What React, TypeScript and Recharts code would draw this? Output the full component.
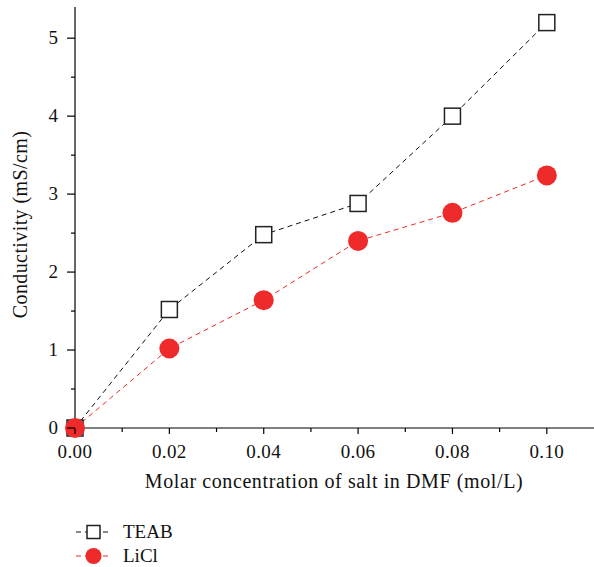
import { LineChart, Line, XAxis, YAxis } from "recharts";

const concentrations = [0, 0.02, 0.04, 0.06, 0.08, 0.1];
const teab = [0, 1.52, 2.48, 2.88, 4.0, 5.2];
const licl = [0, 1.02, 1.64, 2.4, 2.76, 3.24];

const xTicks = [0, 0.01, 0.02, 0.03, 0.04, 0.05, 0.06, 0.07, 0.08, 0.09, 0.1];
const yTicks = [0, 0.5, 1, 1.5, 2, 2.5, 3, 3.5, 4, 4.5, 5];

const data = concentrations.map((c, i) => ({ c, teab: teab[i], licl: licl[i] }));

const RED = "#ee2a2a";
const FONT = "'Liberation Serif', 'DejaVu Serif', serif";

const XTick = (props: any) => {
  const { x, y, payload } = props;
  const v = payload.value as number;
  const major = Math.round(v * 100) % 2 === 0;
  return (
    <g>
      <line x1={x} x2={x} y1={y} y2={y + (major ? 6 : 4)} stroke="#000" strokeWidth={1.2} />
      {major && (
        <text x={x} y={y + 30} textAnchor="middle" fontSize={19} fontFamily={FONT} fill="#111" letterSpacing={0.4}>
          {v.toFixed(2)}
        </text>
      )}
    </g>
  );
};

const YTick = (props: any) => {
  const { x, y, payload } = props;
  const v = payload.value as number;
  const major = Number.isInteger(v);
  return (
    <g>
      <line x1={x} x2={x - (major ? 8 : 4)} y1={y} y2={y} stroke="#000" strokeWidth={1.2} />
      {major && (
        <text x={x - 17} y={y + 6} textAnchor="end" fontSize={19} fontFamily={FONT} fill="#111">
          {v}
        </text>
      )}
    </g>
  );
};

const Square = (props: any) => {
  const { cx, cy } = props;
  return <rect x={cx - 8} y={cy - 8} width={16} height={16} fill="#fff" stroke="#222" strokeWidth={1.5} />;
};

const Circle = (props: any) => {
  const { cx, cy } = props;
  return <circle cx={cx} cy={cy} r={10} fill={RED} />;
};

const XLabel = (props: any) => {
  const vb = props.viewBox;
  return (
    <text x={334} y={vb.y + 60} textAnchor="middle" fontSize={20} fontFamily={FONT} fill="#111" letterSpacing={0.6}>
      Molar concentration of salt in DMF (mol/L)
    </text>
  );
};

const YLabel = (props: any) => {
  const vb = props.viewBox;
  const cy = vb.y + vb.height / 2 + 7;
  return (
    <text
      x={27}
      y={cy}
      transform={`rotate(-90 27 ${cy})`}
      textAnchor="middle"
      fontSize={20}
      fontFamily={FONT}
      fill="#111"
      letterSpacing={0.4}
    >
      Conductivity (mS/cm)
    </text>
  );
};

export default function App() {
  return (
    <div style={{ position: "absolute", left: 0, top: 0, width: 594, height: 567, background: "#fff" }}>
      <LineChart width={594} height={567} data={data} margin={{ top: 7, right: 0, left: 15, bottom: 79 }}>
        <XAxis
          dataKey="c"
          type="number"
          domain={[0, 0.11]}
          ticks={xTicks}
          interval={0}
          tick={<XTick />}
          tickLine={false}
          tickSize={0}
          tickMargin={0}
          axisLine={{ stroke: "#000", strokeWidth: 1.2 }}
          height={60}
          label={<XLabel />}
        />
        <YAxis
          type="number"
          domain={[0, 5.4]}
          ticks={yTicks}
          interval={0}
          tick={<YTick />}
          tickLine={false}
          tickSize={0}
          tickMargin={0}
          axisLine={{ stroke: "#000", strokeWidth: 1.2 }}
          width={60}
          label={<YLabel />}
        />
        <Line
          dataKey="teab"
          type="linear"
          stroke="#111"
          strokeWidth={1}
          strokeDasharray="5 4"
          dot={<Square />}
          activeDot={false}
          isAnimationActive={false}
        />
        <Line
          dataKey="licl"
          type="linear"
          stroke={RED}
          strokeWidth={1}
          strokeDasharray="5 4"
          dot={<Circle />}
          activeDot={false}
          isAnimationActive={false}
        />
      </LineChart>
      <svg style={{ position: "absolute", left: 0, top: 510 }} width={250} height={57}>
        <line x1={76} x2={110} y1={22} y2={22} stroke="#111" strokeWidth={1} strokeDasharray="5 4" />
        <rect x={87} y={15.5} width={13} height={13} fill="#fff" stroke="#222" strokeWidth={1.5} />
        <text x={123} y={28} fontSize={19} fontFamily={FONT} fill="#111">TEAB</text>
        <line x1={76} x2={110} y1={46} y2={46} stroke={RED} strokeWidth={1} strokeDasharray="5 4" />
        <circle cx={93.5} cy={46} r={8} fill={RED} />
        <text x={123} y={52} fontSize={19} fontFamily={FONT} fill="#111">LiCl</text>
      </svg>
    </div>
  );
}
